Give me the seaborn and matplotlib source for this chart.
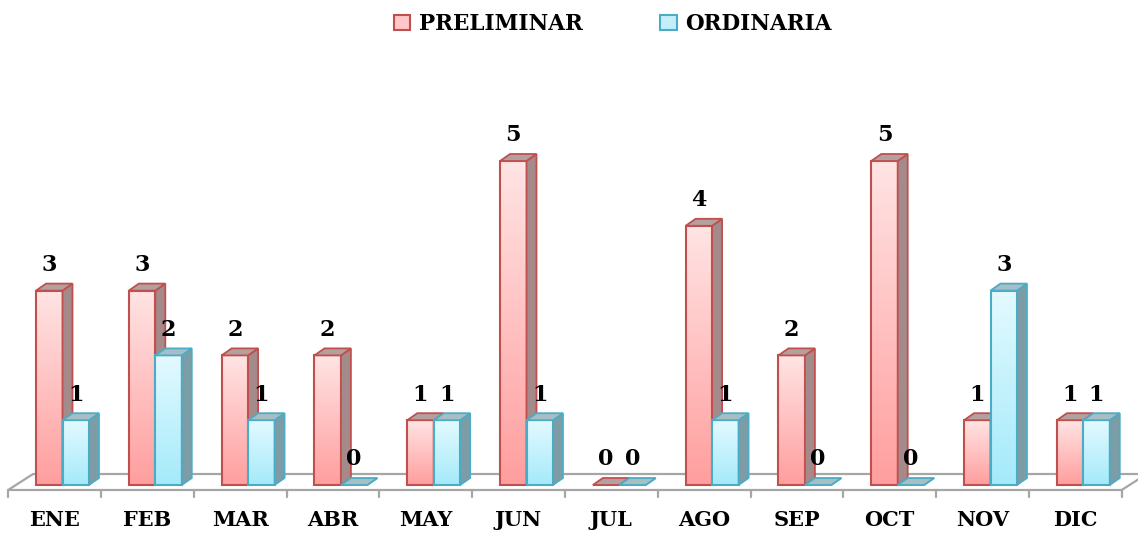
import numpy as np
import pandas as pd
import matplotlib
matplotlib.use("Agg")
import matplotlib.pyplot as plt
import seaborn as sns
from matplotlib.patches import Polygon, Patch
from matplotlib.lines import Line2D
from matplotlib.colors import LinearSegmentedColormap
from matplotlib.transforms import ScaledTranslation

# ---------------- data ----------------
months = ["ENE", "FEB", "MAR", "ABR", "MAY", "JUN", "JUL", "AGO", "SEP", "OCT", "NOV", "DIC"]
preliminar = [3, 3, 2, 2, 1, 5, 0, 4, 2, 5, 1, 1]
ordinaria = [1, 2, 1, 0, 1, 1, 0, 1, 0, 0, 3, 1]
series = ["PRELIMINAR", "ORDINARIA"]

# ---------------- style ----------------
sns.set_theme(style="white")
plt.rcParams["font.family"] = ["DejaVu Serif"]
plt.rcParams["font.weight"] = "bold"
plt.rcParams["text.color"] = "black"

W, H = 1138, 536
fig = plt.figure(figsize=(W / 100, H / 100), dpi=100)
fig.patch.set_facecolor("white")

ax_left, ax_right = 16.1, 1129.7
ax_bottom = 51.0
ax_height = 6 * 64.8
ax = fig.add_axes([ax_left / W, ax_bottom / H, (ax_right - ax_left) / W, ax_height / H])

df = pd.DataFrame({
    "Mes": months * 2,
    "Valor": preliminar + ordinaria,
    "Serie": [series[0]] * len(months) + [series[1]] * len(months),
})

edge_cols = {"PRELIMINAR": "#C0504D", "ORDINARIA": "#4BACC6"}
grad_cols = {"PRELIMINAR": ("#FFE4E4", "#FF9E9E"), "ORDINARIA": ("#E4FAFF", "#A4EAFA")}
top_cols = {"PRELIMINAR": "#B5A0A0", "ORDINARIA": "#A6BEC4"}
side_cols = {"PRELIMINAR": "#A48A8A", "ORDINARIA": "#7D9DA6"}

sns.barplot(data=df, x="Mes", y="Valor", hue="Serie", order=months, hue_order=series,
            palette=[edge_cols[s] for s in series], width=0.57, gap=0, saturation=1,
            errorbar=None, legend=False, ax=ax)

ax.set_xlim(-0.5, len(months) - 0.5)
ax.set_ylim(0, 6)
ax.set_autoscale_on(False)
for sp in ax.spines.values():
    sp.set_visible(False)
ax.set_yticks([])
ax.set_xlabel("")
ax.set_ylabel("")
ax.tick_params(axis="x", length=0, pad=18, labelsize=15, labelcolor="black")
for lab in ax.get_xticklabels():
    lab.set_fontweight("bold")
    lab.set_color("black")
    lab.set_transform(lab.get_transform() + ScaledTranslation(-8 / 100, 0, fig.dpi_scale_trans))

fig.canvas.draw()
inv = ax.transData.inverted()

def to_data(pts):
    return inv.transform(np.array(pts, dtype=float))

# ---------------- floor ----------------
fl_dx, fl_dy = -8, -5
bk_dx, bk_dy = 17, 11
floor = [(ax_left + fl_dx, ax_bottom + fl_dy), (ax_right + fl_dx, ax_bottom + fl_dy),
         (ax_right + bk_dx, ax_bottom + bk_dy), (ax_left + bk_dx, ax_bottom + bk_dy)]
ax.add_patch(Polygon(to_data(floor), closed=True, facecolor="white", edgecolor="#A6A6A6",
                     lw=1.6, zorder=0.5, clip_on=False))
step = (ax_right - ax_left) / len(months)
for k in range(len(months) + 1):
    xk = ax_left + fl_dx + k * step
    seg = to_data([(xk, ax_bottom + fl_dy), (xk, ax_bottom + fl_dy - 7)])
    ax.add_line(Line2D(seg[:, 0], seg[:, 1], color="#A6A6A6", lw=1.6, zorder=0.5, clip_on=False))

# ---------------- 3D bars ----------------
patches = [p for p in ax.patches if p.get_zorder() != 0.5]
n = len(months)
dx, dy = 10, 7
grad = np.linspace(0, 1, 256).reshape(-1, 1)
for si, s in enumerate(series):
    vals = preliminar if si == 0 else ordinaria
    cmap = LinearSegmentedColormap.from_list(s, [grad_cols[s][0], grad_cols[s][1]])
    for i in range(n):
        p = patches[si * n + i]
        base = 10 + 4 * i + 2 * si
        x0, w, h = p.get_x(), p.get_width(), p.get_height()
        p.set_facecolor("none")
        p.set_edgecolor(edge_cols[s])
        p.set_linewidth(1.5)
        p.set_zorder(base + 0.2)
        p.set_clip_on(False)
        if h > 0:
            im = ax.imshow(grad, cmap=cmap, aspect="auto", extent=[x0, x0 + w, 0, h],
                           origin="upper", zorder=base, interpolation="bilinear")
            im.set_clip_path(p)
        X0, Y0 = ax.transData.transform((x0, 0))
        X1, Y1 = ax.transData.transform((x0 + w, h))
        top = [(X0, Y1), (X1, Y1), (X1 + dx, Y1 + dy), (X0 + dx, Y1 + dy)]
        side = [(X1, Y0), (X1 + dx, Y0 + dy), (X1 + dx, Y1 + dy), (X1, Y1)]
        ax.add_patch(Polygon(to_data(side), closed=True, facecolor=side_cols[s],
                             edgecolor=edge_cols[s], lw=1.3, zorder=base + 0.3, clip_on=False))
        ax.add_patch(Polygon(to_data(top), closed=True, facecolor=top_cols[s],
                             edgecolor=edge_cols[s], lw=1.3, zorder=base + 0.35, clip_on=False))
        ax.annotate(str(vals[i]), xy=(x0 + w / 2, h), xytext=(0, 10.5), textcoords="offset points",
                    ha="center", va="bottom", fontsize=16, fontweight="bold", color="black",
                    zorder=100, annotation_clip=False)

ax.set_xlim(-0.5, len(months) - 0.5)
ax.set_ylim(0, 6)

# ---------------- legend ----------------
handles = [Patch(facecolor="#FFC8C8", edgecolor=edge_cols[series[0]], lw=1.5),
           Patch(facecolor="#C4EEFA", edgecolor=edge_cols[series[1]], lw=1.5)]
leg = fig.legend(handles, series, loc="center", bbox_to_anchor=(613 / W, 1 - 24 / H), ncol=2,
                 frameon=False, handlelength=0.75, handleheight=0.75, handletextpad=0.4,
                 columnspacing=3.6, prop={"size": 15.5, "weight": "bold"})
for t in leg.get_texts():
    t.set_color("black")

fig.savefig("out.png", dpi=100, facecolor="white")
